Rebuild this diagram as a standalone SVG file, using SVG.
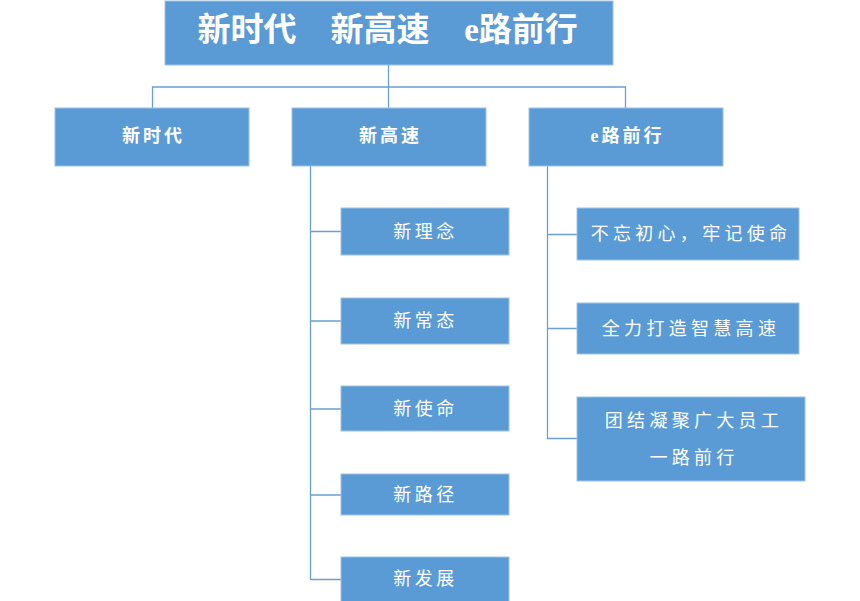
<svg xmlns="http://www.w3.org/2000/svg" width="860" height="601" viewBox="0 0 860 601">
<style>
.box{fill:#5B9BD5;stroke:#9DC3E6;stroke-width:1}
.t{fill:#fff;font-family:"Liberation Serif","Noto Sans CJK SC",serif;text-anchor:middle;dominant-baseline:central}
.title{font-size:33px;font-weight:bold}
.l2{font-size:18px;font-weight:bold;letter-spacing:3px}
.l3{font-size:18px;letter-spacing:3.5px}
.r3{font-size:18px;letter-spacing:4.3px}
.ln{fill:none;stroke:#6A9FD4;stroke-width:1.3}
</style>
<rect width="860" height="601" fill="#fff"/>
<g id="connectors">
<path class="ln" d="M388.5 65V87"/>
<path class="ln" stroke="#8DB3DA" d="M152.5 108V87H625.5V108"/>
<path class="ln" d="M388.5 87V108"/>
<path class="ln" d="M310.5 166V579.5H341"/>
<path class="ln" d="M310.5 231.5H341M310.5 321H341M310.5 409H341M310.5 495H341"/>
<path class="ln" d="M547.5 166V438.5H577"/>
<path class="ln" d="M547.5 234.5H577M547.5 328.5H577"/>
</g>
<g id="n-root"><rect class="box" x="165" y="1" width="448" height="64"/>
<text class="t title" x="247" y="30">新时代</text>
<text class="t title" x="380" y="30">新高速</text>
<text class="t title" x="521" y="30">e路前行</text></g>
<g id="n-xsd"><rect class="box" x="55" y="108" width="194" height="58"/><text class="t l2" x="153.5" y="136">新时代</text></g>
<g id="n-xgs"><rect class="box" x="292" y="108" width="194" height="58"/><text class="t l2" x="390.5" y="136">新高速</text></g>
<g id="n-elqx"><rect class="box" x="529" y="108" width="194" height="58"/><text class="t l2" x="627.5" y="136">e路前行</text></g>
<g id="n-xln"><rect class="box" x="341" y="208" width="168" height="47"/><text class="t l3" x="425.5" y="231.5">新理念</text></g>
<g id="n-xct"><rect class="box" x="341" y="298" width="168" height="46"/><text class="t l3" x="425.5" y="321">新常态</text></g>
<g id="n-xsm"><rect class="box" x="341" y="386" width="168" height="45"/><text class="t l3" x="425.5" y="408.5">新使命</text></g>
<g id="n-xlj"><rect class="box" x="341" y="474" width="168" height="41"/><text class="t l3" x="425.5" y="495">新路径</text></g>
<g id="n-xfz"><rect class="box" x="341" y="557" width="168" height="46"/><text class="t l3" x="425.5" y="579">新发展</text></g>
<g id="n-bwcx"><rect class="box" x="577" y="208" width="222" height="52"/><text class="t r3" x="691" y="234">不忘初心，牢记使命</text></g>
<g id="n-qldz"><rect class="box" x="577" y="303" width="222" height="51"/><text class="t r3" x="691" y="328.5">全力打造智慧高速</text></g>
<g id="n-tjnj"><rect class="box" x="577" y="397" width="228" height="84"/><text class="t r3" x="694" y="421">团结凝聚广大员工</text><text class="t r3" x="694" y="458">一路前行</text></g>
</svg>
